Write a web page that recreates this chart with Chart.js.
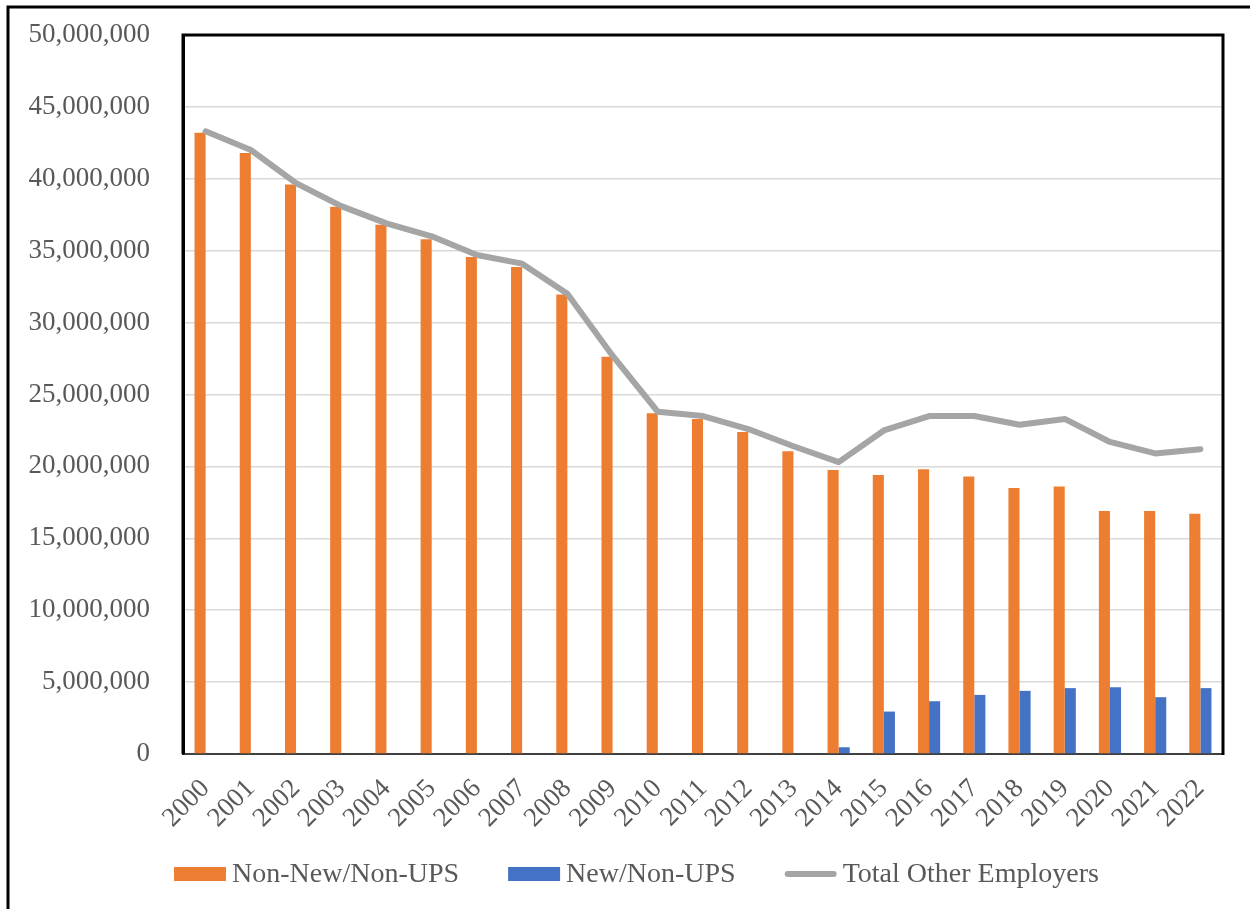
<!DOCTYPE html>
<html>
<head>
<meta charset="utf-8">
<script src="https://cdn.jsdelivr.net/npm/chart.js@4/dist/chart.umd.min.js"></script>
<style>
  html, body { margin: 0; padding: 0; background: #fff; }
  #wrap { position: relative; width: 1250px; height: 909px; }
</style>
</head>
<body>
<div id="wrap"><canvas id="chart" width="1250" height="909"></canvas></div>
<script>
// Employee counts by year
const years = ['2000','2001','2002','2003','2004','2005','2006','2007','2008','2009','2010','2011',
               '2012','2013','2014','2015','2016','2017','2018','2019','2020','2021','2022'];
const nonNewNonUPS = [43200000, 41800000, 39600000, 38050000, 36800000, 35800000, 34570000, 33870000,
                      31960000, 27620000, 23700000, 23300000, 22400000, 21050000, 19750000, 19400000,
                      19800000, 19300000, 18500000, 18600000, 16900000, 16900000, 16700000];
const newNonUPS = [0, 0, 0, 0, 0, 0, 0, 0, 0, 0, 0, 0, 0, 0,
                   470000, 2950000, 3670000, 4110000, 4390000, 4580000, 4650000, 3950000, 4580000];
const totalOther = [43300000, 42000000, 39700000, 38100000, 36900000, 36000000, 34700000, 34100000,
                    32000000, 27700000, 23800000, 23500000, 22600000, 21400000, 20300000, 22500000,
                    23500000, 23500000, 22900000, 23300000, 21700000, 20900000, 21200000];
const yTicks = [0, 5000000, 10000000, 15000000, 20000000, 25000000, 30000000, 35000000, 40000000, 45000000, 50000000];

const FONT = '"Liberation Serif", "Times New Roman", serif';
const TEXT = '#595959';

// Frame lines: outer chart frame plus the plot-area box
const frames = {
  id: 'frames',
  afterDraw(chart) {
    const { ctx, chartArea: a } = chart;
    ctx.save();
    ctx.strokeStyle = '#000';
    ctx.lineWidth = 3;
    ctx.beginPath();
    ctx.moveTo(8, 909);
    ctx.lineTo(8, 7);
    ctx.lineTo(1250, 7);
    ctx.stroke();
    ctx.beginPath();
    ctx.moveTo(a.left, a.bottom);
    ctx.lineTo(a.left, a.top);
    ctx.lineTo(a.right, a.top);
    ctx.lineTo(a.right, a.bottom + 1);
    ctx.stroke();
    ctx.restore();
  }
};

// Legend row under the axis: swatch, label, then the next entry
const seriesLegend = {
  id: 'seriesLegend',
  afterDraw(chart, args, opts) {
    const { ctx } = chart;
    ctx.save();
    ctx.font = `${opts.fontSize}px ${FONT}`;
    ctx.textBaseline = 'middle';
    ctx.textAlign = 'left';
    let x = opts.left;
    const y = opts.y;
    chart.data.datasets.forEach(ds => {
      if (ds.type === 'line') {
        ctx.strokeStyle = ds.borderColor;
        ctx.lineWidth = ds.borderWidth;
        ctx.lineCap = 'round';
        ctx.beginPath();
        ctx.moveTo(x + 3, y);
        ctx.lineTo(x + opts.swatch - 3, y);
        ctx.stroke();
      } else {
        ctx.fillStyle = ds.backgroundColor;
        ctx.fillRect(x, y - opts.boxH / 2, opts.swatch, opts.boxH);
      }
      x += opts.swatch + opts.textGap;
      ctx.fillStyle = TEXT;
      ctx.fillText(ds.label, x, y + 1);
      x += ctx.measureText(ds.label).width + opts.itemGap;
    });
    ctx.restore();
  }
};

new Chart(document.getElementById('chart'), {
  type: 'bar',
  data: {
    labels: years,
    datasets: [
      {
        label: 'Non-New/Non-UPS',
        data: nonNewNonUPS,
        backgroundColor: '#ED7D31',
        borderWidth: 0,
        order: 2
      },
      {
        label: 'New/Non-UPS',
        data: newNonUPS,
        backgroundColor: '#4472C4',
        borderWidth: 0,
        order: 2
      },
      {
        type: 'line',
        label: 'Total Other Employers',
        data: totalOther,
        borderColor: '#A5A5A5',
        backgroundColor: '#A5A5A5',
        borderWidth: 6,
        borderCapStyle: 'round',
        borderJoinStyle: 'round',
        pointRadius: 0,
        pointHoverRadius: 0,
        tension: 0,
        order: 1
      }
    ]
  },
  options: {
    responsive: false,
    animation: false,
    layout: { padding: { left: 0, top: 35, right: 27, bottom: 0 } },
    datasets: {
      bar: { categoryPercentage: 0.49, barPercentage: 1.0 }
    },
    plugins: {
      tooltip: { enabled: false },
      legend: { display: false },
      seriesLegend: { left: 174, y: 874, swatch: 52, boxH: 14, textGap: 6, itemGap: 49, fontSize: 28 }
    },
    scales: {
      x: {
        grid: { display: false, drawTicks: false },
        border: { color: '#404040', width: 2 },
        ticks: {
          color: TEXT,
          font: { family: FONT, size: 27 },
          minRotation: 45,
          maxRotation: 45,
          padding: 19,
          autoSkip: false
        },
        afterFit(scale) { scale.height = 155; }
      },
      y: {
        min: 0,
        max: 50000000,
        afterBuildTicks(scale) { scale.ticks = yTicks.map(v => ({ value: v })); },
        grid: { color: '#D9D9D9', lineWidth: 1.5, drawTicks: true, tickLength: 31, tickColor: 'rgba(0,0,0,0)' },
        border: { color: '#000', width: 3 },
        ticks: {
          color: TEXT,
          font: { family: FONT, size: 27 },
          padding: 2,
          callback: v => Number(v).toLocaleString('en-US')
        },
        afterFit(scale) { scale.width = 183; }
      }
    }
  },
  plugins: [frames, seriesLegend]
});
</script>
</body>
</html>
